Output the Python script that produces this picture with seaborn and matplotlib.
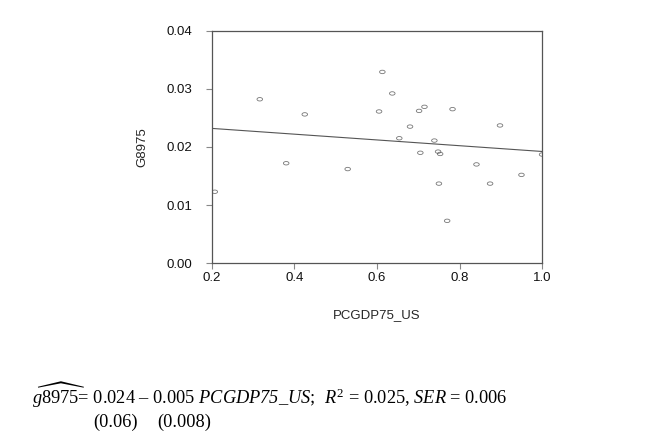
import numpy as np
import pandas as pd
import seaborn as sns
from matplotlib import pyplot as plt
from matplotlib.path import Path
from matplotlib.transforms import Affine2D

# values
pcgdp75_us = [0.207, 0.316, 0.380, 0.425, 0.529, 0.605, 0.613, 0.637, 0.654,
              0.680, 0.702, 0.705, 0.715, 0.739, 0.748, 0.753, 0.750, 0.770,
              0.783, 0.841, 0.874, 0.898, 0.950, 1.000]
g8975 = [0.0123, 0.0282, 0.0172, 0.0256, 0.0162, 0.0261, 0.0329, 0.0292, 0.0215,
         0.0235, 0.0262, 0.0190, 0.0269, 0.0211, 0.0192, 0.0188, 0.0137, 0.0073,
         0.0265, 0.0170, 0.0137, 0.0237, 0.0152, 0.0187]
x_ticks = [0.2, 0.4, 0.6, 0.8, 1.0]
y_ticks = [0.00, 0.01, 0.02, 0.03, 0.04]

df = pd.DataFrame({'PCGDP75_US': pcgdp75_us, 'G8975': g8975})

sns.set_style('ticks')
plt.rcParams['font.family'] = ['Liberation Sans', 'DejaVu Sans']
plt.rcParams['mathtext.fontset'] = 'custom'
plt.rcParams['mathtext.rm'] = 'Liberation Serif'
plt.rcParams['mathtext.it'] = 'Liberation Serif:italic'
# sf slot used for fully italic words (digits included)
plt.rcParams['mathtext.sf'] = 'Liberation Serif:italic'

# flattened ellipse marker like the original
ellipse = Path.unit_circle().transformed(Affine2D().scale(1.0, 0.62))

fig = plt.figure(figsize=(6.5, 4.44), dpi=100)
ax = fig.add_axes([0.326, 0.407, 0.508, 0.524])
ax.set_xlim(0.2, 1.0)
ax.set_ylim(0.0, 0.04)

sns.regplot(data=df, x='PCGDP75_US', y='G8975', ax=ax, ci=None, truncate=False,
            marker=ellipse,
            scatter_kws={'s': 16, 'facecolors': 'none', 'edgecolors': '#555555',
                         'linewidths': 0.6},
            line_kws={'color': '#555555', 'linewidth': 0.8})
ax.set_xlim(0.2, 1.0)
ax.set_ylim(0.0, 0.04)

ax.set_xticks(x_ticks)
ax.set_xticklabels(['0.2', '0.4', '0.6', '0.8', '1.0'])
ax.set_yticks(y_ticks)
ax.set_yticklabels(['0.00', '0.01', '0.02', '0.03', '0.04'])
ax.tick_params(axis='both', direction='out', length=4, width=0.8, color='#888888',
               labelsize=9.5, labelcolor='#111111')
ax.tick_params(axis='x', pad=2)
ax.tick_params(axis='y', pad=10)
for s in ax.spines.values():
    s.set_visible(True)
    s.set_color('#555555')
    s.set_linewidth(0.9)
ax.set_xlabel('PCGDP75_US', fontsize=9.5, labelpad=18)
ax.set_ylabel('G8975', fontsize=9.5, labelpad=13)

eq = (r'$\widehat{g8975}$= 0.024 – 0.005 $\mathsf{PCGDP75\_US}$;  '
      r'$\mathit{R}^{2}$ = 0.025, $\mathit{SER}$ = 0.006')
fig.text(32 / 650, 1 - 404 / 444, eq, fontsize=13.2, color='black',
         family='Liberation Serif', ha='left', va='baseline')
fig.text(93 / 650, 1 - 427 / 444, '(0.06)', fontsize=13.2, color='black',
         family='Liberation Serif', ha='left', va='baseline')
fig.text(157 / 650, 1 - 427 / 444, '(0.008)', fontsize=13.2, color='black',
         family='Liberation Serif', ha='left', va='baseline')

fig.savefig('out.png', dpi=100)
